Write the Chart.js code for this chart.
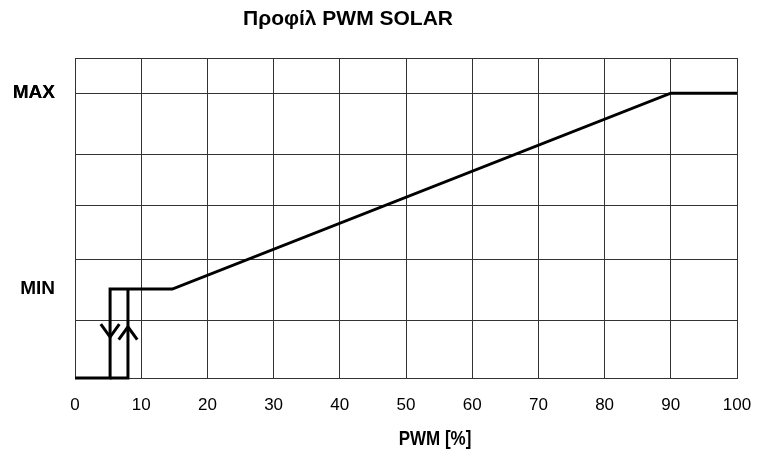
<!DOCTYPE html>
<html>
<head>
<meta charset="utf-8">
<script src="https://cdn.jsdelivr.net/npm/chart.js@4"></script>
<style>
  body { margin: 0; background: #fff; }
  #wrap { width: 763px; height: 454px; position: relative; }
</style>
</head>
<body>
<div id="wrap"><canvas id="c"></canvas></div>
<script>
const chartTitle = 'Προφίλ PWM SOLAR';
const xTitle = 'PWM [%]';

// horizontal grid positions (0 = bottom, 100 = top of plot)
const yGrid = [0, 18, 37, 54, 70, 89, 100];
const yLabelNames = ['MIN', 'MAX'];
const yLabelValues = [27.8, 89];

// main profile
const profileX = [0, 5.3, 5.3, 14.7, 90, 100];
const profileY = [0, 0, 27.8, 27.8, 89, 89];
// return branch (hysteresis)
const returnX = [5.3, 8, 8];
const returnY = [0, 0, 27.8];
// arrow heads
const downArrowX = [3.9, 5.3, 6.7];
const downArrowY = [16.8, 12.8, 16.8];
const upArrowX = [6.6, 8, 9.4];
const upArrowY = [12, 16, 12];

const FONT = "'Liberation Sans', Arial, sans-serif";

function pts(xs, ys) {
  return xs.map(function(x, i) { return { x: x, y: ys[i] }; });
}

function lineSet(xs, ys, w) {
  return {
    data: pts(xs, ys),
    showLine: true,
    borderColor: '#000',
    borderWidth: w,
    pointRadius: 0,
    fill: false,
    clip: false
  };
}

// chart title and axis title (axis title is a bit condensed like the original)
const textPlugin = {
  id: 'texts',
  afterDraw: function(chart) {
    const ctx = chart.ctx;
    ctx.save();
    ctx.fillStyle = '#000';
    ctx.textAlign = 'center';
    ctx.textBaseline = 'middle';
    ctx.font = 'bold 21px ' + FONT;
    ctx.fillText(chartTitle, 348, 19);
    ctx.translate(435, 439);
    ctx.scale(0.85, 1);
    ctx.font = 'bold 20px ' + FONT;
    ctx.fillText(xTitle, 0, 0);
    ctx.restore();
  }
};

const ctx = document.getElementById('c');
new Chart(ctx, {
  type: 'scatter',
  data: {
    datasets: [
      lineSet(profileX, profileY, 3),
      lineSet(returnX, returnY, 3),
      lineSet(downArrowX, downArrowY, 3),
      lineSet(upArrowX, upArrowY, 3)
    ]
  },
  options: {
    responsive: true,
    maintainAspectRatio: false,
    animation: false,
    layout: { padding: { top: 58, right: 26, left: 0, bottom: 0 } },
    plugins: {
      legend: { display: false },
      title: { display: false },
      tooltip: { enabled: false }
    },
    scales: {
      x: {
        type: 'linear',
        min: 0,
        max: 100,
        ticks: {
          stepSize: 10,
          padding: 17,
          color: '#000',
          font: { family: FONT, size: 17 }
        },
        grid: { color: '#333', lineWidth: 1, drawTicks: false },
        border: { color: '#333' },
        afterFit: function(s) {
          s.height = 76;
          s.paddingLeft = 0;
          s.paddingRight = 0;
        }
      },
      y: {
        type: 'linear',
        min: 0,
        max: 100,
        afterBuildTicks: function(s) {
          const vals = yGrid.concat(yLabelValues).sort(function(a, b) { return a - b; });
          s.ticks = vals.map(function(v) { return { value: v }; });
        },
        ticks: {
          padding: 20,
          color: '#000',
          font: { family: FONT, size: 19, weight: 'bold' },
          callback: function(v) {
            const i = yLabelValues.indexOf(v);
            return i >= 0 ? yLabelNames[i] : '';
          }
        },
        grid: {
          drawTicks: false,
          lineWidth: 1,
          color: function(c) {
            if (c.tick && c.tick.value === yLabelValues[0]) return 'rgba(0,0,0,0)';
            return '#333';
          }
        },
        border: { color: '#333' },
        afterFit: function(s) { s.width = 75; }
      }
    }
  },
  plugins: [textPlugin]
});
</script>
</body>
</html>
